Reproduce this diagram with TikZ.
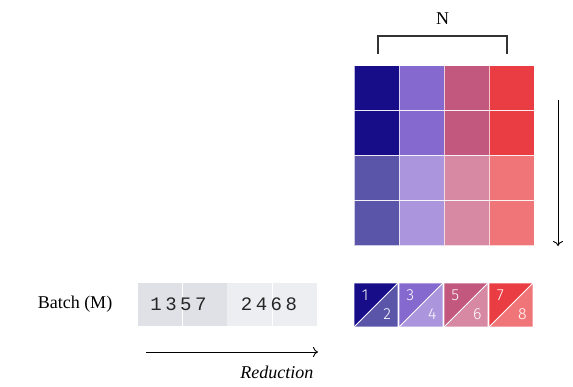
\documentclass[tikz,border=0pt]{standalone}
\usepackage{fontspec}
\setmainfont{Liberation Serif}
\newfontfamily\monofont{Liberation Mono}
\newfontfamily\labelfont{Fira Sans Light}
\usetikzlibrary{arrows.meta}

\definecolor{blueD}{HTML}{170D89}
\definecolor{blueL}{HTML}{5B55AA}
\definecolor{purpleD}{HTML}{8669CF}
\definecolor{purpleL}{HTML}{AB96DD}
\definecolor{mauveD}{HTML}{C2587E}
\definecolor{mauveL}{HTML}{D789A4}
\definecolor{redD}{HTML}{EA3C43}
\definecolor{redL}{HTML}{F07578}
\definecolor{batchA}{HTML}{DFE1E6}
\definecolor{batchB}{HTML}{EDEEF2}
\definecolor{inkgray}{HTML}{333333}

\tikzset{
  cell/.style={draw=white, draw opacity=0.7, line width=1pt, minimum size=45pt, inner sep=0pt},
  pair/.style={minimum size=43pt, inner sep=0pt},
  batchbox/.style={minimum width=89pt, minimum height=43pt, inner sep=0pt},
  tag/.style={text=white, font=\labelfont\fontsize{16}{16}\selectfont, inner sep=0pt},
  serif/.style={font=\fontsize{18}{21}\selectfont},
  digits/.style={font=\monofont\fontsize{19}{19}\selectfont, text=black!85},
  flow/.style={-{To[length=5pt, width=10pt]}, line width=0.9pt},
}

\begin{document}
\begin{tikzpicture}[x=1pt, y=-1pt]
	\useasboundingbox (0,0) rectangle (573,387);
	% weight grid
	\node[cell, fill=blueD]   (g11) at (376.5,88.5) {};
	\node[cell, fill=purpleD] (g12) at (421.5,88.5) {};
	\node[cell, fill=mauveD]  (g13) at (466.5,88.5) {};
	\node[cell, fill=redD]    (g14) at (511.5,88.5) {};
	\node[cell, fill=blueD]   (g21) at (376.5,133.5) {};
	\node[cell, fill=purpleD] (g22) at (421.5,133.5) {};
	\node[cell, fill=mauveD]  (g23) at (466.5,133.5) {};
	\node[cell, fill=redD]    (g24) at (511.5,133.5) {};
	\node[cell, fill=blueL]   (g31) at (376.5,178.5) {};
	\node[cell, fill=purpleL] (g32) at (421.5,178.5) {};
	\node[cell, fill=mauveL]  (g33) at (466.5,178.5) {};
	\node[cell, fill=redL]    (g34) at (511.5,178.5) {};
	\node[cell, fill=blueL]   (g41) at (376.5,223.5) {};
	\node[cell, fill=purpleL] (g42) at (421.5,223.5) {};
	\node[cell, fill=mauveL]  (g43) at (466.5,223.5) {};
	\node[cell, fill=redL]    (g44) at (511.5,223.5) {};

	% N bracket
	\coordinate (brL) at (378,54);
	\coordinate (brR) at (507,54);
	\draw[inkgray, line width=1.2pt] (brL) -- ++(0,-18) -| (brR);
	\node[serif] (nlabel) at (442.5,19) {N};

	% down arrow
	\coordinate (downTop) at (558,100);
	\coordinate (downEnd) at (558,246);
	\draw[flow] (downTop) -- (downEnd);

	% packed pairs
	\foreach \i/\x/\dk/\lt/\a/\b in {1/376/blueD/blueL/1/2, 2/421/purpleD/purpleL/3/4,
	                                 3/466/mauveD/mauveL/5/6, 4/511/redD/redL/7/8}{
		\node[pair] (p\i) at (\x,305) {};
		\fill[\dk] (p\i.north west) -- (p\i.north east) -- (p\i.south west) -- cycle;
		\fill[\lt] (p\i.north east) -- (p\i.south east) -- (p\i.south west) -- cycle;
		\draw[white, line width=1pt] (p\i.south west) -- (p\i.north east);
		\node[tag] (pa\i) at ([xshift=11pt, yshift=-12pt]p\i.north west) {\a};
		\node[tag] (pb\i) at ([xshift=33pt, yshift=-31pt]p\i.north west) {\b};
	}

	% batch row
	\node[serif] (batch) at (75,304.5) {Batch (M)};
	\node[batchbox, fill=batchA] (b1) at (182.5,304.5) {};
	\node[batchbox, fill=batchB, minimum width=90pt] (b2) at (272,304.5) {};
	\draw[white, line width=1pt] (b1.north) -- (b1.south);
	\draw[white, line width=1pt] (b2.north) -- (b2.south);
	\node[digits] (odd) at ([xshift=-4pt]b1.center) {1\kern3.5pt3\kern3.5pt5\kern3.5pt7};
	\node[digits] (even) at ([xshift=-3pt]b2.center) {2\kern3.5pt4\kern3.5pt6\kern3.5pt8};

	% reduction arrow
	\coordinate (redStart) at (146,352);
	\coordinate (redEnd) at (318,352);
	\draw[flow] (redStart) -- (redEnd);
	\node[serif, anchor=east, font=\itshape\fontsize{18}{21}\selectfont] (reduction) at (317,372) {Reduction};
\end{tikzpicture}
\end{document}
